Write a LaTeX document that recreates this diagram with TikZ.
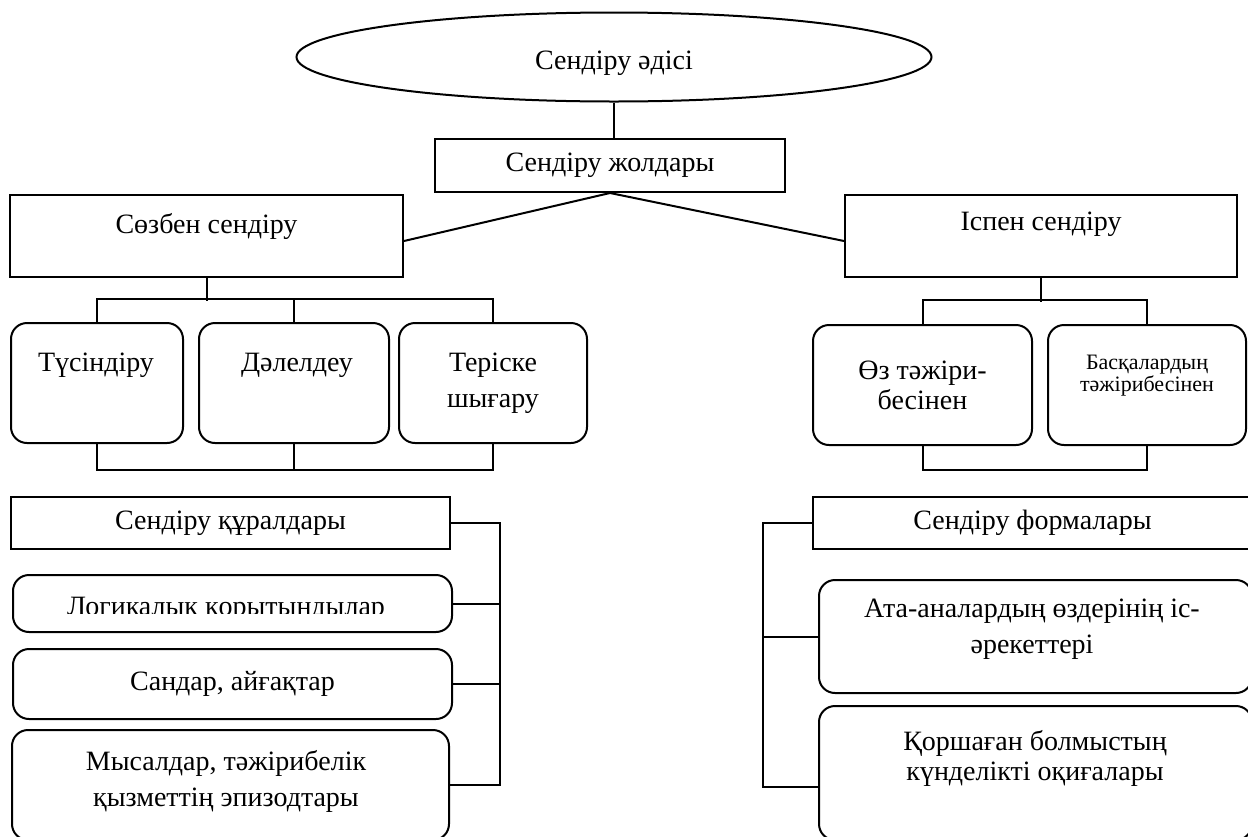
\documentclass[tikz,border=0pt]{standalone}
\usepackage{fontspec}
\setmainfont{Liberation Serif}
\usetikzlibrary{shapes.geometric}

\begin{document}
\begin{tikzpicture}[x=0.5pt,y=-0.5pt,
  box/.style={draw, line width=1pt, inner sep=0pt, align=center, font=\fontsize{14}{18}\selectfont},
  rbox/.style={box, rounded corners=8pt},
  txt/.style={inner sep=0pt, align=center, font=\fontsize{14}{18}\selectfont},
  wire/.style={line width=1pt}]
\useasboundingbox (0,0) rectangle (1248,836);
\clip (0,0) rectangle (1248,836);

%%% method and ways
\node[box, shape=ellipse, minimum width=317.5pt, minimum height=44.5pt] (meth) at (614,57) {};
\node[txt] (meth-t) at (614,63) {Сендіру әдісі};
\node[box, minimum width=175pt, minimum height=26.5pt] (ways) at (610,165.5) {Сендіру жолдары};
\draw[wire] (meth.south) -- (meth.south |- ways.north);

\node[box, minimum width=196.5pt, minimum height=41pt] (word) at (206.5,236) {};
\node[txt] (word-t) at (206.5,226) {Сөзбен сендіру};
\node[box, minimum width=196pt, minimum height=41pt] (deed) at (1041,236) {};
\node[txt] (deed-t) at (1041,224) {Іспен сендіру};
\draw[wire] ([yshift=-2.5pt]word.east) -- (ways.south) -- ([yshift=-2.5pt]deed.west);

%%% by word
\node[rbox, minimum width=86pt, minimum height=60pt] (expl) at (97,383) {};
\node[txt] (expl-t) at (96,365) {Түсіндіру};
\node[rbox, minimum width=95pt, minimum height=60pt] (prove) at (294,383) {};
\node[txt] (prove-t) at (297,365) {Дәлелдеу};
\node[rbox, minimum width=94pt, minimum height=60pt] (deny) at (493,383) {Теріске\\шығару};

\draw[wire] (word.south) -- ++(0,23);
\draw[wire] (expl.north) -- ++(0,-23) -| (deny.north);
\draw[wire] (prove.north) -- ++(0,-23);
\draw[wire] (expl.south) -- ++(0,26) -| (deny.south);
\draw[wire] (prove.south) -- ++(0,26);

%%% by deed
\node[rbox, minimum width=109.5pt, minimum height=60pt, font=\fontsize{14}{15}\selectfont] (own) at (922.5,385) {Өз тәжіри-\\бесінен};
\node[rbox, minimum width=99pt, minimum height=60pt] (other) at (1147,385) {};
\node[txt, font=\fontsize{11}{11}\selectfont] (other-t) at (1147,376) {Басқалардың\\тәжірибесінен};

\draw[wire] (deed.south) -- ++(0,24);
\draw[wire] (own.north) -- ++(0,-24) -| (other.north);
\draw[wire] (own.south) -- ++(0,24) -| (other.south);

%%% means
\node[box, minimum width=219.5pt, minimum height=26pt] (means) at (230.5,523) {Сендіру құралдары};
\node[rbox, minimum width=219.5pt, minimum height=28.5pt] (logic) at (232.5,603.5) {};
\begin{scope}
\clip (13,575) rectangle (452,613);
\node[txt, anchor=base] (logic-t) at (226,615.5) {Логикалық қорытындылар};
\end{scope}
\node[rbox, minimum width=219.5pt, minimum height=35pt] (facts) at (232.5,684) {Сандар, айғақтар};
\node[rbox, minimum width=218.5pt, minimum height=55pt] (examp) at (230.5,785) {};
\node[txt] (examp-t) at (226,781) {Мысалдар, тәжірибелік\\қызметтің эпизодтары};

\coordinate (mbar) at (500,0);
\draw[wire] (means.east) -| (mbar |- examp.east) -- (examp.east);
\draw[wire] (logic.east) -- (logic.east -| mbar);
\draw[wire] (facts.east) -- (facts.east -| mbar);

%%% forms
\node[box, minimum width=219.5pt, minimum height=26pt] (forms) at (1032.5,523) {Сендіру формалары};
\node[rbox, minimum width=216.5pt, minimum height=56.5pt] (parents) at (1035.5,636.5) {};
\node[txt] (parents-t) at (1032,629.5) {Ата-аналардың өздерінің іс-\\әрекеттері};
\node[rbox, minimum width=216.5pt, minimum height=67pt] (daily) at (1035.5,773) {};
\node[txt, font=\fontsize{14}{15}\selectfont] (daily-t) at (1035,758) {Қоршаған болмыстың\\күнделікті оқиғалары};

\coordinate (fbar) at (763,0);
\coordinate (daily-in) at ([yshift=-7pt]daily.west);
\draw[wire] (forms.west) -| (fbar |- daily-in) -- (daily-in);
\draw[wire] (parents.west) -- (parents.west -| fbar);

\end{tikzpicture}
\end{document}
